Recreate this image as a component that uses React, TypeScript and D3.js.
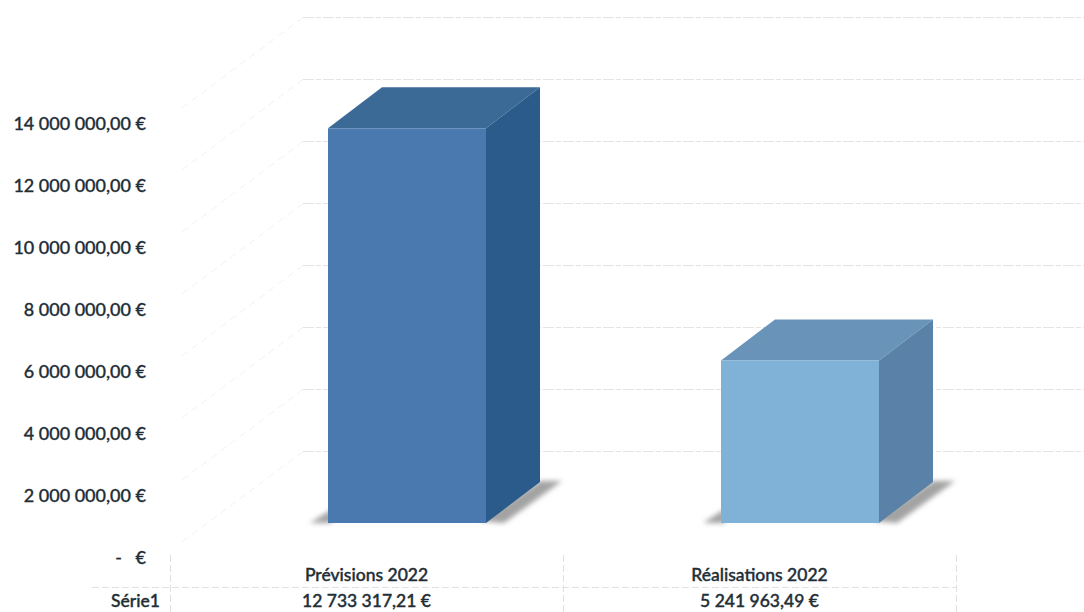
import React from "react";
import * as d3 from "d3";

// Budget figures for 2022
const categories = ["Prévisions 2022", "Réalisations 2022"];
const seriesName = "Série1";
const seriesValues = [12733317.21, 5241963.49];
const valueLabels = ["12 733 317,21 €", "5 241 963,49 €"];
const axisTicks = [0, 2000000, 4000000, 6000000, 8000000, 10000000, 12000000, 14000000];
const axisLabels = ["-   €", "2 000 000,00 €", "4 000 000,00 €", "6 000 000,00 €", "8 000 000,00 €", "10 000 000,00 €", "12 000 000,00 €", "14 000 000,00 €"];
const wallTicks = [2000000, 4000000, 6000000, 8000000, 10000000, 12000000, 14000000, 16000000];
const frontColors = ["#4a79b0", "#80b2d8"];
const topColors = ["#3c6a96", "#6a93ba"];
const sideColors = ["#2b5b8a", "#5a82a8"];

const WIDTH = 1084;
const HEIGHT = 612;
const TEXT = "#222e36";
const FONT = "Lato, 'Open Sans', sans-serif";

// Oblique offset of the 3D bars and of the chart walls
const DEPTH_X = 54;
const DEPTH_Y = 41;
const BAR_WIDTH = 158;

const x = d3.scaleBand<string>().domain(categories).range([170, 956]);
const yBar = d3.scaleLinear().domain([0, 14000000]).range([523, 89]);
const yAxis = d3.scaleLinear().domain([0, 14000000]).range([557, 122.5]);
const yWall = d3.scaleLinear().domain([0, 16000000]).range([513.5, 17.5]);

const poly = (pts: [number, number][]) => (d3.line()(pts) ?? "") + "Z";

function Bar({ index }: { index: number }) {
  const left = (x(categories[index]) ?? 0) + BAR_WIDTH;
  const right = left + BAR_WIDTH;
  const top = yBar(seriesValues[index]);
  const base = yBar(0);
  return (
    <g>
      {/* Ground shadow on both sides of the block */}
      <path
        d={poly([[right - 6, base - 2], [right + DEPTH_X, base - DEPTH_Y - 1], [right + DEPTH_X + 22, base - DEPTH_Y - 1], [right + 18, base]])}
        fill="#a3a3a3"
        filter="url(#soft)"
      />
      <path
        d={poly([[left - 18, base], [left + 4, base - 14], [left + 4, base]])}
        fill="#a3a3a3"
        filter="url(#soft)"
      />
      <path
        d={poly([[left, top], [left + DEPTH_X, top - DEPTH_Y], [right + DEPTH_X, top - DEPTH_Y], [right, top]])}
        fill={topColors[index]}
      />
      <path
        d={poly([[right, top], [right + DEPTH_X, top - DEPTH_Y], [right + DEPTH_X, base - DEPTH_Y], [right, base]])}
        fill={sideColors[index]}
      />
      <rect x={left} y={top} width={BAR_WIDTH} height={base - top} fill={frontColors[index]} />
    </g>
  );
}

export default function App() {
  const tableRight = x.range()[1];
  return (
    <svg
      width={WIDTH}
      height={HEIGHT}
      viewBox={`0 0 ${WIDTH} ${HEIGHT}`}
      style={{ position: "fixed", left: 0, top: 0, background: "#fff" }}
      fontFamily={FONT}
    >
      <defs>
        <filter id="soft" x="-40%" y="-40%" width="180%" height="180%">
          <feGaussianBlur stdDeviation="2.6" />
        </filter>
      </defs>

      {/* Back wall gridlines and their diagonals along the side wall */}
      {wallTicks.map((t) => (
        <g key={t} fill="none">
          <line x1={303} x2={WIDTH} y1={yWall(t)} y2={yWall(t)} stroke="#e4e4e4" strokeDasharray="11 2 5 2" />
          <line x1={303} x2={180} y1={yWall(t)} y2={yWall(t) + 92} stroke="#f1f1f1" strokeDasharray="7 5" />
        </g>
      ))}

      {categories.map((c, i) => (
        <Bar key={c} index={i} />
      ))}

      {/* Value axis */}
      {axisTicks.map((t, i) => (
        <text
          key={t}
          x={146}
          y={yAxis(t)}
          textAnchor="end"
          dominantBaseline="central"
          fontSize={18}
          fontWeight={500}
          fill={TEXT}
          stroke={TEXT}
          strokeWidth={0.3}
          xmlSpace="preserve"
        >
          {axisLabels[i]}
        </text>
      ))}

      {/* Data table below the plot */}
      <g stroke="#e0e0e0" fill="none" strokeDasharray="7 3">
        <line x1={92} x2={tableRight} y1={587.5} y2={587.5} />
        {[...categories.map((c) => x(c) ?? 0), tableRight].map((px) => (
          <line key={px} x1={px + 0.5} x2={px + 0.5} y1={555} y2={612} />
        ))}
      </g>
      <text x={111} y={600.5} dominantBaseline="central" fontSize={17.5} fontWeight={500} fill={TEXT} stroke={TEXT} strokeWidth={0.4}>
        {seriesName}
      </text>
      {categories.map((c, i) => {
        const cx = (x(c) ?? 0) + x.bandwidth() / 2;
        return (
          <g key={c} textAnchor="middle" fontSize={17.5} fontWeight={500} fill={TEXT} stroke={TEXT} strokeWidth={0.4}>
            <text x={cx} y={574} dominantBaseline="central">{c}</text>
            <text x={cx} y={600.5} dominantBaseline="central">{valueLabels[i]}</text>
          </g>
        );
      })}
    </svg>
  );
}
